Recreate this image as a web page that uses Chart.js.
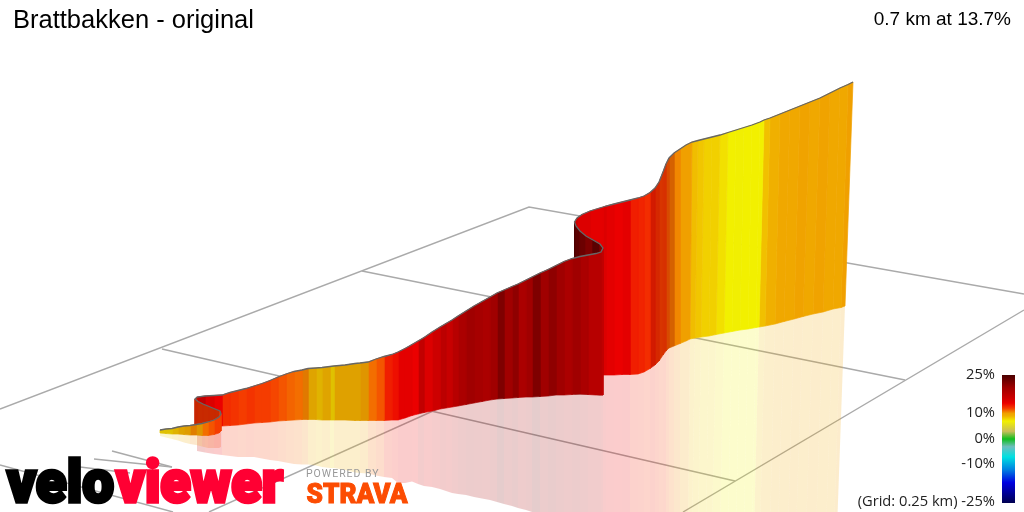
<!DOCTYPE html>
<html>
<head>
<meta charset="utf-8">
<title>Brattbakken - original</title>
<script src="https://cdn.jsdelivr.net/npm/chart.js@4"></script>
<style>
  html, body { margin: 0; padding: 0; background: #fff; overflow: hidden; }
  canvas { display: block; }
</style>
</head>
<body>
<canvas id="climbChart" width="1024" height="512"></canvas>
<script>
/* values, in picture units */
const topX = [160,166,172,178,184,190,196,202,208,214,219,221,
  220,215,209,203,198,195,
  197,205,214,222,230,238,246,254,262,270,278,286,294,302,308,316,322,330,334,345,355,360,368,376,384,392,398,405,412,418,424,432,440,446,452,458,466,474,482,490,497,504,512,518,526,532,540,548,556,564,572,580,588,596,601,603,
  600,593,586,580,576,574.5,
  577,582,590,603,606,614,622,630,638,644,650,655,659,663,666,669,674,680,686,692,698,704,712,720,728,736,744,752,760,764,770,780,790,800,810,820,830,840,848,853];
const topY = [430,429,428.5,427,426,425.5,424.5,423.5,422,420,417,414,
  411,409,406.5,404,401.5,399,
  397,396,395.5,395,392.5,390.5,388.5,386,383.5,380.5,377,374,371.5,370,368.5,368,367.5,366.5,366,365,363.5,363,362,359,356.5,354.5,352,348.5,344.5,341,337.5,332,327,323.5,320,316,311,306,301.5,297,293,290,286.5,284,280,277,273,269.5,265.5,261.5,258.5,256.5,255,253.5,252,248,
  244,240,236,231,226,222,
  218,214.5,211,207,206,204,202,200,198,196,192.5,188,182,172,164,158,153,149,145,142,140.5,139,137,135,132.5,130,127.5,125,122,120,118,114,110,106,102,98,93,88,84.5,82];
const baseX = [160,166,172,178,184,190,196,202,208,214,219,221,
  220,215,209,203,198,195,
  197,205,214,222,230,238,246,254,262,270,278,286,294,302,308,316,322,330,334,345,355,360,368,376,384,392,398,405,412,418,424,432,440,446,452,458,466,474,482,490,497,504,512,518,526,532,540,548,556,564,572,580,588,596,601,603,
  600,593,586,580,576,574.5,
  577,582,590,603,606,614,622,630,638,644,650,655,659,663,666,669,674,680,686,690,695,701,709,716,724,732,740,748,756,759,765,775,784,794,803,813,823,833,841,845];
const baseY = [433,433.5,434,434,434.5,435,435,435.5,435.5,434.5,433,431,
  428,427,426.5,426,425.5,425,
  425,425.5,426,426,425.5,425,424,423,422.5,422,421,420.5,420,419.5,419.5,419.5,420,420,420,420,420.5,420.5,420.5,420.5,420.5,420,420,418,415.5,414,412.5,411,409,408,407,406,404.5,403,401.5,400,399,398.5,398,397.5,397,397,396.5,396,395,395,394.5,394,394.5,395,395,395,
  395,394,394,394,394,394,
  375,375,375,375,375,375,374.5,374.5,374,372,368.5,365,361,355,351,348,346,343.5,341,339,338,337,336,334.5,333,331.5,330,329,327.5,327,326,324,321.5,319,316.5,314,312,309,307.5,306];
const reflX = [160,166,172,178,184,190,196,202,208,214,219,221,
  220,215,209,203,198,195,
  197,205,214,222,230,238,246,254,262,270,278,286,294,302,308,316,322,330,334,345,355,360,368,376,384,392,398,405,412,418,424,432,440,446,452,458,466,474,482,490,497,504,512,518,526,532,540,548,556,564,572,580,588,596,601,603,
  600,593,586,580,576,574.5,
  577,582,590,603,606,614,622,630,638,644,650,655,659,663,666,669,674,680,686,688,692,698,706,712,720,728,736,744,752,754,760,770,778,788,796,806,816,826,834,837];
const reflY = [436,437.5,439,440.5,442.5,444,445,446.5,448,448,448,447,
  444,444,445,446.5,447.5,449,
  451,452.5,454,455,456,457,457,457,458.5,460,461,462.5,464,464.5,464.5,465.5,467,468,468,470,472.5,473,473.5,475.5,477,478,483,483,481.5,484,486,487,489,491,493,494,495,497,498.5,500,502,504,506,508,510,512,514,516,518,520,522,524,525,527,528,530,
  533,535,537,540,544,546,
  524,526,529,532,532,532,533,534,535,536,536,536,536,535,534,533,533,532,531,530,530,530,530,530,531,531,531,532,532,533,533,534,534,534,534,533,533,533,532,530];
// gradient in % of the strip between point i and i+1
const grades = [8,8,8.5,9,9.5,10.5,10,11,11.5,12,12,12,
  12.3,12.3,12.3,12.3,12.5,13,
  17,15,14,12.5,12.3,12,12.3,12,12,11.8,11.5,11.2,11,10.6,9,8.5,9,8,9.2,9.2,9.2,10,11,11.5,13,13.5,14.5,14.5,14,17,15,16,17.5,16.5,18,19,20,19.5,19,20,22,20,21,19,20,22,20,21,20,19,20,19,18,18,17,22,
  24,22,23,24,25,16,
  15,15,14.5,15,14.5,14,14.5,13,12.8,12.5,13,12.5,12,12.2,11.5,11,10.5,10,10,8.6,8.3,8,8,7.5,7,6.9,7,7,7,8.5,9,9.5,9.5,9.8,9.5,9.8,9.5,9.5,10];
// strips on the inside of the two folds and the bend, which sit darker
const shadedFrom = [12, 90];
const shadedTo = [17, 95];
const shadedBy = [0.82, 0.88];
// strips whose mirror image cannot be seen in the picture
const noMirror = [11,12,13,14,15,16,17,73,74,75,76,77,78,79,80,81,82];

const gridX = [[0,529,1024],[362,905],[162,735],[683,1024],[209,626],[0,173],[112,172],[94,172],[80,130]];
const gridY = [[409,207,294],[271,380],[349,481],[512,310],[512,324],[465,512],[451,467],[459,467],[467,473]];

const scaleGrades = [25,20,16,14,12,10,9,7,3,0,-3,-7,-12,-17,-25];
const scaleRgb = [[74,0,0],[160,0,0],[205,0,0],[235,0,0],[245,60,0],[240,160,0],[240,176,0],[242,240,0],[200,190,90],[16,190,30],[110,190,190],[0,225,225],[0,128,225],[0,0,225],[0,0,80]];
const scaleLabels = ['25%','10%','0%','-10%','(Grid: 0.25 km) -25%'];
const scaleLabelY = [379,417,443,468,506];

const title = 'Brattbakken - original';
const summary = '0.7 km at 13.7%';
const lastShadedStrip = 79; // everything before the last fold faces a bit away from the light

function gradeRgb(g) {
    for (let i = 0; i < scaleGrades.length - 1; i++) {
        if (g <= scaleGrades[i] && g >= scaleGrades[i + 1]) {
            const t = (scaleGrades[i] - g) / (scaleGrades[i] - scaleGrades[i + 1]);
            return scaleRgb[i].map((c, k) => Math.round(c + (scaleRgb[i + 1][k] - c) * t));
        }
    }
    return scaleRgb[0];
}

function stripShade(i, g) {
    for (let k = 0; k < shadedFrom.length; k++) {
        if (i >= shadedFrom[k] && i <= shadedTo[k]) return shadedBy[k];
    }
    return (i < lastShadedStrip && g < 11) ? 0.93 : 1;
}

function strip(pts, color, border) {
    return {
        data: pts,
        showLine: true,
        fill: 'shape',
        backgroundColor: color,
        borderColor: border || 'transparent',
        borderWidth: border ? 0.7 : 0,
        pointRadius: 0,
        tension: 0
    };
}

const canvas = document.getElementById('climbChart');
const ctx = canvas.getContext('2d');
const datasets = [];

// first dataset ends up on top, so the route start (nearest) goes first
datasets.push({
    data: topX.map((x, i) => ({ x: x, y: topY[i] })),
    showLine: true,
    fill: false,
    borderColor: '#666666',
    borderWidth: 1.3,
    pointRadius: 0,
    tension: 0
});

grades.forEach((g, i) => {
    const shade = stripShade(i, g);
    const color = 'rgb(' + gradeRgb(g).map(v => Math.round(v * shade)).join(',') + ')';
    datasets.push(strip([
        { x: topX[i], y: topY[i] },
        { x: topX[i + 1], y: topY[i + 1] },
        { x: baseX[i + 1], y: baseY[i + 1] },
        { x: baseX[i], y: baseY[i] },
        { x: topX[i], y: topY[i] }
    ], color, color));
});

grades.forEach((g, i) => {
    if (noMirror.includes(i)) return;
    const color = 'rgba(' + gradeRgb(g).join(',') + ',0.2)';
    datasets.push(strip([
        { x: baseX[i], y: baseY[i] },
        { x: baseX[i + 1], y: baseY[i + 1] },
        { x: reflX[i + 1], y: reflY[i + 1] },
        { x: reflX[i], y: reflY[i] }
    ], color));
});

gridX.forEach((xs, i) => {
    datasets.push({
        data: xs.map((x, k) => ({ x: x, y: gridY[i][k] })),
        showLine: true,
        fill: false,
        borderColor: '#aaaaaa',
        borderWidth: 1.4,
        pointRadius: 0,
        tension: 0
    });
});

// colour key
const keyGradient = ctx.createLinearGradient(0, 375, 0, 503);
scaleGrades.forEach((g, i) => {
    keyGradient.addColorStop((25 - g) / 50, 'rgb(' + scaleRgb[i].join(',') + ')');
});
datasets.push(strip([
    { x: 1002, y: 375 }, { x: 1015, y: 375 }, { x: 1015, y: 503 }, { x: 1002, y: 503 }
], keyGradient));

function fitText(c, text, x, baseline, width, weight) {
    c.save();
    c.translate(x, baseline);
    c.scale(width / c.measureText(text).width, 1);
    if (weight) {
        c.lineWidth = weight;
        c.lineJoin = 'miter';
        c.strokeStyle = c.fillStyle;
        c.strokeText(text, 0, 0);
    }
    c.fillText(text, 0, 0);
    c.restore();
}

const textPlugin = {
    id: 'chartText',
    afterDraw(chart) {
        const c = chart.ctx;
        c.save();
        c.textBaseline = 'alphabetic';
        c.fillStyle = '#000';
        c.textAlign = 'left';
        c.font = '25.5px "Liberation Sans"';
        c.fillText(title, 13, 28);
        c.textAlign = 'right';
        c.font = '19px "Liberation Sans"';
        c.fillText(summary, 1011, 25);
        c.fillStyle = '#222';
        c.font = '14.7px "Open Sans"';
        scaleLabels.forEach((t, i) => c.fillText(t, 995, scaleLabelY[i]));

        c.textAlign = 'left';
        c.font = '900 59px Roboto';
        c.fillStyle = '#000';
        fitText(c, 'velo', 7, 501.5, 107, 3.5);
        c.fillStyle = '#ff0033';
        fitText(c, 'viewer', 116, 501.5, 167, 3.5);
        c.fillStyle = '#999999';
        c.font = '10.5px Roboto';
        c.letterSpacing = '1px';
        c.fillText('POWERED BY', 306, 477);
        c.letterSpacing = '0px';
        c.fillStyle = '#fc4c02';
        c.font = '900 27px Roboto';
        fitText(c, 'STRAVA', 306.5, 503, 101, 1);
        c.restore();
    }
};

new Chart(ctx, {
    type: 'scatter',
    data: { datasets: datasets },
    options: {
        responsive: false,
        animation: false,
        events: [],
        layout: { padding: 0 },
        scales: {
            x: { type: 'linear', min: 0, max: 1024, display: false },
            y: { type: 'linear', min: 0, max: 512, reverse: true, display: false }
        },
        plugins: {
            legend: { display: false },
            title: { display: false },
            tooltip: { enabled: false }
        }
    },
    plugins: [textPlugin]
});
</script>
</body>
</html>
